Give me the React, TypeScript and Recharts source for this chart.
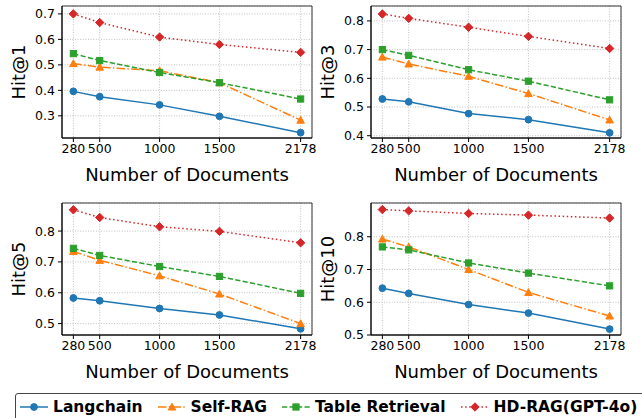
import React from "react";
import {
  LineChart,
  Line,
  XAxis,
  YAxis,
  CartesianGrid,
  ReferenceArea,
} from "recharts";

// x values (number of documents)
const docCounts = [280, 500, 1000, 1500, 2178];

// Hit@1
const langchainHit1 = [0.396, 0.375, 0.343, 0.298, 0.234];
const selfRagHit1 = [0.505, 0.491, 0.477, 0.43, 0.283];
const tableHit1 = [0.544, 0.517, 0.47, 0.43, 0.366];
const hdRagHit1 = [0.7, 0.666, 0.609, 0.58, 0.549];

// Hit@3
const langchainHit3 = [0.528, 0.518, 0.477, 0.456, 0.41];
const selfRagHit3 = [0.674, 0.65, 0.607, 0.547, 0.455];
const tableHit3 = [0.7, 0.68, 0.63, 0.59, 0.525];
const hdRagHit3 = [0.824, 0.809, 0.778, 0.746, 0.704];

// Hit@5
const langchainHit5 = [0.583, 0.574, 0.549, 0.528, 0.483];
const selfRagHit5 = [0.734, 0.705, 0.655, 0.596, 0.5];
const tableHit5 = [0.744, 0.721, 0.685, 0.653, 0.598];
const hdRagHit5 = [0.869, 0.844, 0.814, 0.799, 0.762];

// Hit@10
const langchainHit10 = [0.643, 0.627, 0.593, 0.567, 0.518];
const selfRagHit10 = [0.793, 0.769, 0.7, 0.63, 0.558];
const tableHit10 = [0.769, 0.76, 0.72, 0.689, 0.65];
const hdRagHit10 = [0.883, 0.879, 0.871, 0.866, 0.857];

const yTicksHit1 = [0.3, 0.4, 0.5, 0.6, 0.7];
const yTicksHit3 = [0.4, 0.5, 0.6, 0.7, 0.8];
const yTicksHit5 = [0.5, 0.6, 0.7, 0.8];
const yTicksHit10 = [0.5, 0.6, 0.7, 0.8];

const SERIES = [
  { key: "langchain", name: "Langchain", color: "#1f77b4", dash: undefined, shape: "circle" },
  { key: "selfRag", name: "Self-RAG", color: "#ff7f0e", dash: "8.5 2.3 1.4 2.3", shape: "triangle" },
  { key: "table", name: "Table Retrieval", color: "#2ca02c", dash: "5.2 2.3", shape: "square" },
  { key: "hdRag", name: "HD-RAG(GPT-4o)", color: "#d62728", dash: "1.5 2.6", shape: "diamond" },
];

const X_DOMAIN: [number, number] = [185, 2273];
const FONT = "'DejaVu Sans', sans-serif";

function buildRows(l: number[], s: number[], t: number[], h: number[]) {
  return docCounts.map((d, i) => ({
    docs: d,
    langchain: l[i],
    selfRag: s[i],
    table: t[i],
    hdRag: h[i],
  }));
}

const PANELS = [
  { label: "Hit@1", rows: buildRows(langchainHit1, selfRagHit1, tableHit1, hdRagHit1), ticks: yTicksHit1, domain: [0.213, 0.731], left: 0, top: 0 },
  { label: "Hit@3", rows: buildRows(langchainHit3, selfRagHit3, tableHit3, hdRagHit3), ticks: yTicksHit3, domain: [0.392, 0.852], left: 309, top: 0 },
  { label: "Hit@5", rows: buildRows(langchainHit5, selfRagHit5, tableHit5, hdRagHit5), ticks: yTicksHit5, domain: [0.463, 0.891], left: 0, top: 197 },
  { label: "Hit@10", rows: buildRows(langchainHit10, selfRagHit10, tableHit10, hdRagHit10), ticks: yTicksHit10, domain: [0.5, 0.903], left: 309, top: 197 },
];

function Marker({ cx, cy, shape, color }: { cx: number; cy: number; shape: string; color: string }) {
  if (cx == null || cy == null) return null;
  if (shape === "circle") return <circle cx={cx} cy={cy} r={3.4} fill={color} stroke={color} />;
  if (shape === "square")
    return <rect x={cx - 3.1} y={cy - 3.1} width={6.2} height={6.2} fill={color} stroke={color} />;
  if (shape === "triangle") {
    const s = 3.8;
    return (
      <polygon
        points={`${cx},${cy - s} ${cx - s},${cy + s * 0.8} ${cx + s},${cy + s * 0.8}`}
        fill={color}
        stroke={color}
      />
    );
  }
  const d = 4.2;
  return (
    <polygon
      points={`${cx},${cy - d} ${cx + d},${cy} ${cx},${cy + d} ${cx - d},${cy}`}
      fill={color}
      stroke={color}
    />
  );
}

function YLabel(props: any) {
  const { viewBox, value } = props;
  const cx = viewBox.x + 18.5;
  const cy = viewBox.y + viewBox.height / 2;
  return (
    <text
      x={cx}
      y={cy}
      transform={`rotate(-90 ${cx} ${cy})`}
      textAnchor="middle"
      dominantBaseline="central"
      fontSize={18}
      fill="#000"
      fontFamily={FONT}
    >
      {value}
    </text>
  );
}

function Panel({ panel }: { panel: (typeof PANELS)[number] }) {
  return (
    <div style={{ position: "absolute", left: panel.left, top: panel.top }}>
      <LineChart
        width={320}
        height={190}
        data={panel.rows}
        margin={{ top: 6, right: 8, left: 0, bottom: 0 }}
      >
        <CartesianGrid stroke="#b0b0b0" strokeWidth={0.8} strokeDasharray="1 1.6" />
        <XAxis
          dataKey="docs"
          type="number"
          domain={X_DOMAIN}
          ticks={docCounts}
          interval={0}
          allowDataOverflow
          height={52}
          tickSize={4}
          tickMargin={2}
          stroke="#000"
          tick={{ fontSize: 12.5, fill: "#000", fontFamily: FONT }}
          label={{
            value: "Number of Documents",
            position: "insideBottom",
            offset: 9,
            fontSize: 18,
            fill: "#000",
            fontFamily: FONT,
          }}
        />
        <YAxis
          type="number"
          domain={panel.domain as [number, number]}
          ticks={panel.ticks}
          allowDataOverflow
          interval={0}
          width={62}
          tickSize={4}
          tickMargin={3}
          stroke="#000"
          tickFormatter={(v: number) => v.toFixed(1)}
          tick={{ fontSize: 12.5, fill: "#000", fontFamily: FONT }}
          label={<YLabel value={panel.label} />}
        />
        <ReferenceArea
          x1={X_DOMAIN[0]}
          x2={X_DOMAIN[1]}
          y1={panel.domain[0]}
          y2={panel.domain[1]}
          fill="none"
          stroke="#222"
          strokeWidth={0.9}
          ifOverflow="visible"
        />
        {SERIES.map((s) => (
          <Line
            key={s.key}
            dataKey={s.key}
            name={s.name}
            stroke={s.color}
            strokeWidth={1.5}
            strokeDasharray={s.dash}
            isAnimationActive={false}
            activeDot={false}
            dot={(p: any) => (
              <Marker key={`${s.key}-${p.index}`} cx={p.cx} cy={p.cy} shape={s.shape} color={s.color} />
            )}
          />
        ))}
      </LineChart>
    </div>
  );
}

function LegendBox() {
  return (
    <div
      style={{
        position: "absolute",
        left: 15,
        top: 393,
        width: 640,
        height: 40,
        border: "1px solid #444",
        borderRadius: 3,
        boxSizing: "border-box",
        display: "flex",
        alignItems: "flex-start",
        paddingTop: 4,
        paddingLeft: 4,
        fontFamily: FONT,
        fontWeight: "bold",
        fontSize: 15.5,
        color: "#000",
      }}
    >
      {SERIES.map((s) => (
        <div key={s.key} style={{ display: "flex", alignItems: "center", marginRight: 15, whiteSpace: "nowrap" }}>
          <svg width={28} height={18} style={{ marginRight: 5 }}>
            <line
              x1={0}
              y1={9}
              x2={28}
              y2={9}
              stroke={s.color}
              strokeWidth={1.5}
              strokeDasharray={s.dash}
            />
            <Marker cx={14} cy={9} shape={s.shape} color={s.color} />
          </svg>
          <span>{s.name}</span>
        </div>
      ))}
    </div>
  );
}

export default function App() {
  return (
    <div
      style={{
        position: "absolute",
        left: 0,
        top: 0,
        width: 642,
        height: 418,
        overflow: "hidden",
        background: "#fff",
        fontFamily: FONT,
      }}
    >
      {PANELS.map((p) => (
        <Panel key={p.label} panel={p} />
      ))}
      <LegendBox />
    </div>
  );
}
